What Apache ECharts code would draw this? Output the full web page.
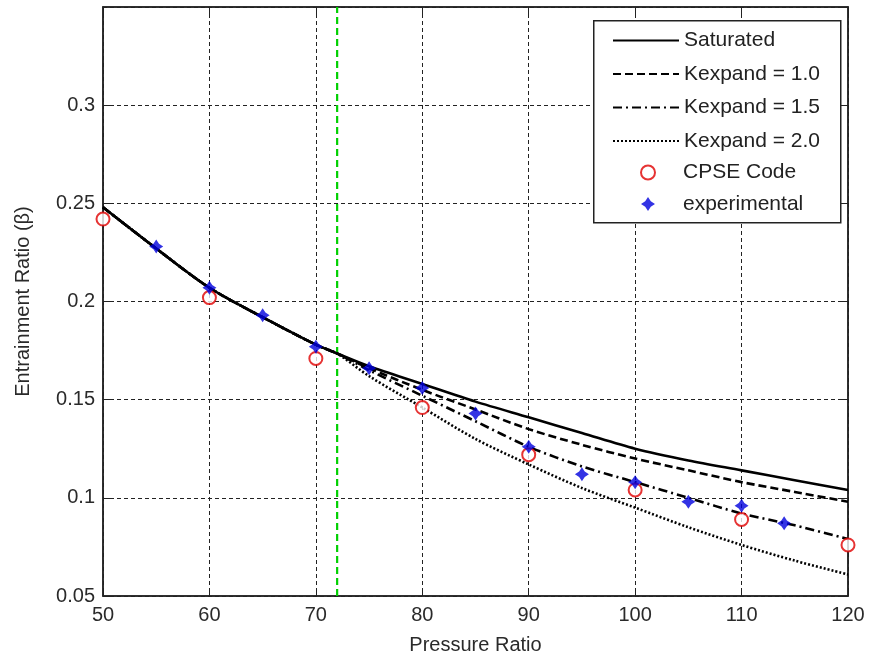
<!DOCTYPE html>
<html>
<head>
<meta charset="utf-8">
<script src="https://cdn.jsdelivr.net/npm/echarts@6/dist/echarts.min.js"></script>
<style>
  html, body { margin: 0; padding: 0; background: #fff; }
  #chart { width: 871px; height: 660px; }
</style>
</head>
<body>
<div id="chart"></div>
<script>
// Model curves: entrainment ratio against pressure ratio
const pressureRatio = [50, 55, 60, 65, 70, 72, 75, 80, 85, 90, 95, 100, 105, 110, 115, 120];
const saturated = [0.248, 0.227, 0.207, 0.192, 0.178, 0.1735, 0.167, 0.158, 0.149, 0.141, 0.133, 0.125, 0.119, 0.114, 0.109, 0.104];
const kexpand10 = [0.248, 0.227, 0.207, 0.192, 0.178, 0.1735, 0.166, 0.155, 0.145, 0.135, 0.127, 0.120, 0.114, 0.108, 0.103, 0.098];
const kexpand15 = [0.248, 0.227, 0.207, 0.192, 0.178, 0.1735, 0.165, 0.152, 0.139, 0.126, 0.116, 0.108, 0.100, 0.092, 0.086, 0.079];
const kexpand20 = [0.248, 0.227, 0.207, 0.192, 0.178, 0.1735, 0.162, 0.146, 0.130, 0.117, 0.105, 0.095, 0.085, 0.076, 0.068, 0.061];

// CPSE code results
const cpseX = [50, 60, 70, 80, 90, 100, 110, 120];
const cpseY = [0.242, 0.202, 0.171, 0.146, 0.122, 0.104, 0.089, 0.076];

// Experimental measurements
const expX = [55, 60, 65, 70, 75, 80, 85, 90, 95, 100, 105, 110, 114];
const expY = [0.228, 0.207, 0.193, 0.177, 0.166, 0.156, 0.143, 0.126, 0.112, 0.108, 0.098, 0.096, 0.087];

// Design pressure ratio marker
const designRatio = 72;

// Axis ranges and ticks
const xRange = [50, 120];
const xStep = 10;
const yRange = [0.05, 0.35];
const yStep = 0.05;

const FONT = '"Liberation Sans", Arial, sans-serif';
const pairs = (xs, ys) => xs.map((x, i) => [x, ys[i]]);
const starPath = 'path://M0,-10 L4,-4 L10,0 L4,4 L0,10 L-4,4 L-10,0 L-4,-4 Z';

const chart = echarts.init(document.getElementById('chart'), null, { renderer: 'canvas' });

const gridLine = { show: true, lineStyle: { color: '#222', width: 1, type: [4, 3] } };
const tickIn = { show: true, inside: true, length: 7, lineStyle: { color: '#222', width: 1 } };
const axisLine = { show: true, lineStyle: { color: '#222', width: 1.5 } };
const labelStyle = { color: '#2a2a2a', fontFamily: FONT, fontSize: 20 };

function curve(name, values, type) {
  return {
    name: name, type: 'line', data: pairs(pressureRatio, values),
    smooth: 0.3, symbol: 'none', z: 3,
    lineStyle: { color: '#000', width: 2.6, type: type },
    itemStyle: { color: '#000' }
  };
}

chart.setOption({
  backgroundColor: '#fff',
  animation: false,
  grid: { left: 103, right: 23, top: 7, bottom: 63, show: true, borderColor: '#222', borderWidth: 1.5 },
  xAxis: [{
    type: 'value', min: xRange[0], max: xRange[1], interval: xStep,
    name: 'Pressure Ratio', nameLocation: 'middle', nameGap: 39,
    nameTextStyle: { color: '#2a2a2a', fontFamily: FONT, fontSize: 20 },
    axisLine: axisLine, axisTick: tickIn, splitLine: gridLine,
    axisLabel: Object.assign({ margin: 9 }, labelStyle)
  }, {
    type: 'value', position: 'top', min: xRange[0], max: xRange[1], interval: xStep,
    axisLine: axisLine, axisTick: tickIn, splitLine: { show: false }, axisLabel: { show: false }
  }],
  yAxis: [{
    type: 'value', min: yRange[0], max: yRange[1], interval: yStep,
    name: 'Entrainment Ratio (β)', nameLocation: 'middle', nameGap: 70,
    nameTextStyle: { color: '#2a2a2a', fontFamily: FONT, fontSize: 20 },
    axisLine: axisLine, axisTick: tickIn, splitLine: gridLine,
    axisLabel: Object.assign({ margin: 8, showMaxLabel: false }, labelStyle)
  }, {
    type: 'value', position: 'right', min: yRange[0], max: yRange[1], interval: yStep,
    axisLine: axisLine, axisTick: tickIn, splitLine: { show: false }, axisLabel: { show: false }
  }],
  graphic: [{
    type: 'rect', z: 50, left: 593, top: 20,
    shape: { width: 247, height: 202 },
    style: { fill: '#fff', stroke: '#222', lineWidth: 1.5 }
  }],
  legend: [{
    z: 60, left: 607, top: 25, orient: 'vertical',
    itemWidth: 66, itemHeight: 14, itemGap: 12.5,
    data: ['Saturated', 'Kexpand = 1.0', 'Kexpand = 1.5', 'Kexpand = 2.0'],
    itemStyle: { opacity: 0 },
    textStyle: { color: '#222', fontFamily: FONT, fontSize: 21, lineHeight: 20 },
    selectedMode: false
  }, {
    z: 60, left: 635, top: 157, orient: 'vertical',
    itemWidth: 14, itemHeight: 14, itemGap: 10.5,
    data: ['CPSE Code', 'experimental'],
    textStyle: { color: '#222', fontFamily: FONT, fontSize: 21, lineHeight: 20, padding: [0, 0, 0, 23] },
    selectedMode: false
  }],
  series: [
    {
      name: 'design', type: 'line', symbol: 'none', z: 2,
      data: [[designRatio, yRange[0]], [designRatio, yRange[1]]],
      lineStyle: { color: '#00d000', width: 2.2, type: [7, 4] }
    },
    curve('Saturated', saturated, 'solid'),
    curve('Kexpand = 1.0', kexpand10, [8, 4]),
    curve('Kexpand = 1.5', kexpand15, [9, 4, 2, 4]),
    curve('Kexpand = 2.0', kexpand20, [2, 2]),
    {
      name: 'CPSE Code', type: 'scatter', z: 4,
      data: pairs(cpseX, cpseY),
      symbol: 'emptyCircle', symbolSize: 13,
      itemStyle: { color: '#e00000', borderColor: '#e00000', borderWidth: 2 }
    },
    {
      name: 'experimental', type: 'scatter', z: 5,
      data: pairs(expX, expY),
      symbol: starPath, symbolSize: 14,
      itemStyle: { color: '#0000dd' }
    }
  ]
});
</script>
</body>
</html>
